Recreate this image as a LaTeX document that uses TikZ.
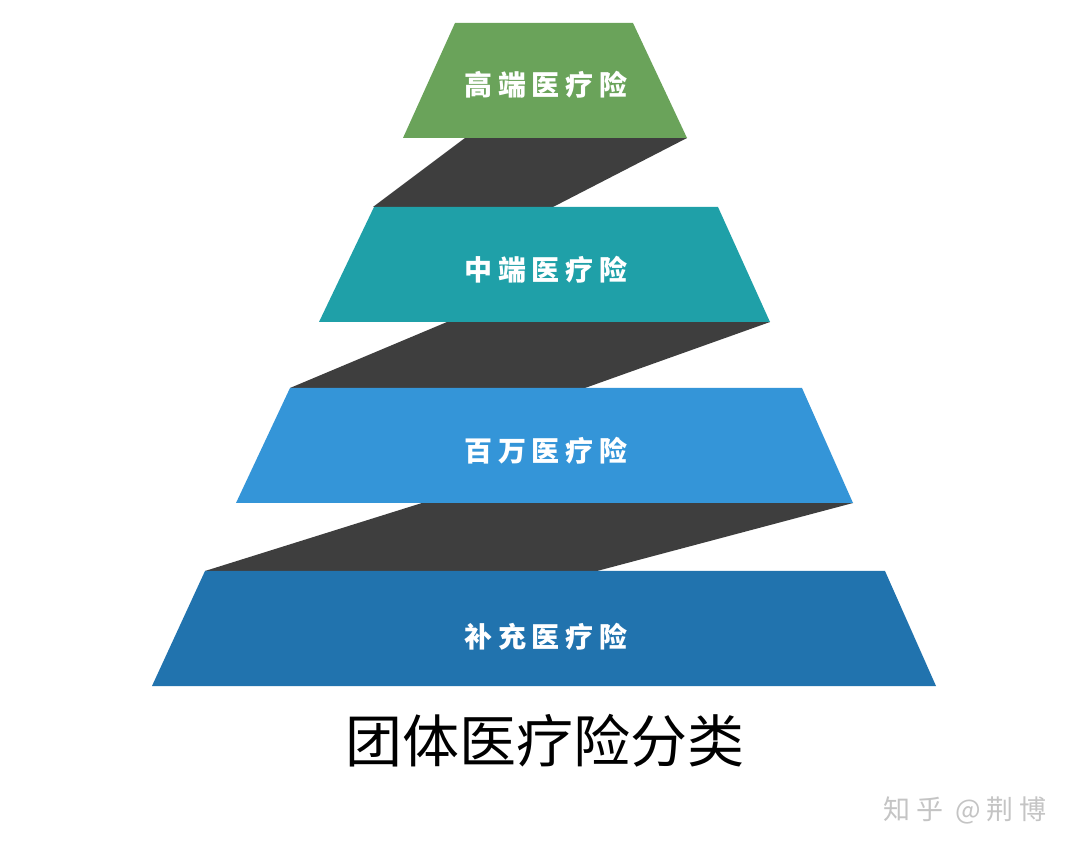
\documentclass[tikz,border=0pt]{standalone}
\usepackage{fontspec}
\newfontfamily\cjk{Noto Sans CJK SC}
\newfontfamily\cjksp{Noto Sans CJK SC}[LetterSpace=20]
\newfontfamily\cjkwm{Noto Sans CJK SC}[LetterSpace=22]
\definecolor{cgreen}{HTML}{6AA35A}
\definecolor{cteal}{HTML}{1FA0A8}
\definecolor{cblue}{HTML}{3495D8}
\definecolor{cdblue}{HTML}{2173AE}
\definecolor{cband}{HTML}{3E3E3E}
\definecolor{cwm}{HTML}{C4C4C4}
\begin{document}
\begin{tikzpicture}[x=1pt,y=-1pt,
  band/.style={fill=cband},
  lbl/.style={anchor=base,text=white,inner sep=0pt,font=\cjksp\bfseries\fontsize{28}{32}\selectfont},
  ttl/.style={anchor=base,text=black,inner sep=0pt,font=\cjk\fontsize{57}{64}\selectfont},
  wm/.style={anchor=base west,text=cwm,inner sep=0pt,font=\cjkwm\fontsize{27}{32}\selectfont}]
\useasboundingbox[fill=white] (0,0) rectangle (1080,858);
% dark bands
\fill[band] (465,138) -- (687,138) -- (553,207) -- (373,207) -- cycle;
\fill[band] (447,322) -- (770,322) -- (585,388) -- (290,388) -- cycle;
\fill[band] (422,503) -- (853,503) -- (597,571) -- (205,571) -- cycle;
% tiers
\fill[cgreen] (455,23) -- (633,23) -- (687,138) -- (403,138) -- cycle;
\fill[cteal] (374,207) -- (718,207) -- (770,322) -- (319,322) -- cycle;
\fill[cblue] (290,388) -- (802,388) -- (853,503) -- (236,503) -- cycle;
\fill[cdblue] (205,571) -- (885,571) -- (936,686) -- (152,686) -- cycle;
% labels
\node[lbl] (t1) at (546,96) {高端医疗险};
\node[lbl] (t2) at (546,281) {中端医疗险};
\node[lbl] (t3) at (546,462) {百万医疗险};
\node[lbl] (t4) at (546,647) {补充医疗险};
\node[ttl] (title) at (545,762) {团体医疗险分类};
\node[wm] (wm) at (883,819) {知乎 @荆博};
\end{tikzpicture}
\end{document}
